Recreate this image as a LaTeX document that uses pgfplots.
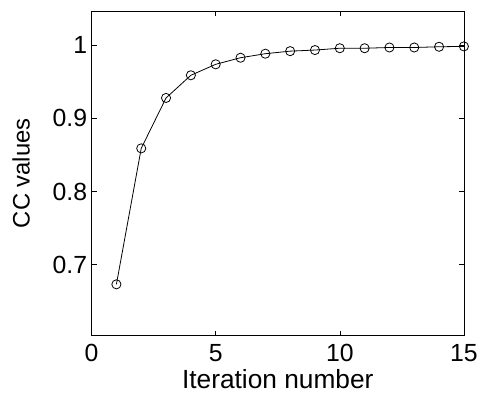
\documentclass[border=0pt]{standalone}
\usepackage{pgfplots}
\pgfplotsset{compat=1.18}
\usepackage{fontspec}
\setmainfont{Liberation Sans}
\begin{document}
\begin{tikzpicture}
\begin{axis}[
  scale only axis,
  width=374bp, height=326bp,
  xmin=0, xmax=15, ymin=0.603, ymax=1.047,
  xtick={0,5,10,15},
  ytick={0.7,0.8,0.9,1},
  yticklabels={0.7,0.8,0.9,1},
  tick align=inside,
  major tick length=5bp,
  tick style={black, line width=0.6pt},
  axis line style={line width=0.8pt},
  /pgf/number format/assume math mode=true,
  ticklabel style={font=\fontsize{25}{27}\selectfont},
  xlabel={Iteration number},
  ylabel={CC values},
  xlabel style={font=\fontsize{26.5}{28}\selectfont, yshift=-1bp},
  ylabel style={font=\fontsize{24}{26}\selectfont, yshift=16bp},
  xticklabel style={yshift=-5bp},
  yticklabel style={xshift=-1bp},
]
\addplot[black, line width=0.8pt, mark=o, mark size=4.6bp, mark options={line width=0.8pt}] coordinates {
(1,0.673) (2,0.859) (3,0.928) (4,0.959) (5,0.974) (6,0.983) (7,0.9885) (8,0.992) (9,0.9935)
(10,0.996) (11,0.996) (12,0.997) (13,0.997) (14,0.998) (15,0.9985)
};
\end{axis}
\path (current axis.north west) ++(-92bp,11bp) coordinate (bbA);
\path (current axis.south east) ++(15bp,-59bp) coordinate (bbB);
\path (bbA) -- (bbB);
\end{tikzpicture}
\end{document}
